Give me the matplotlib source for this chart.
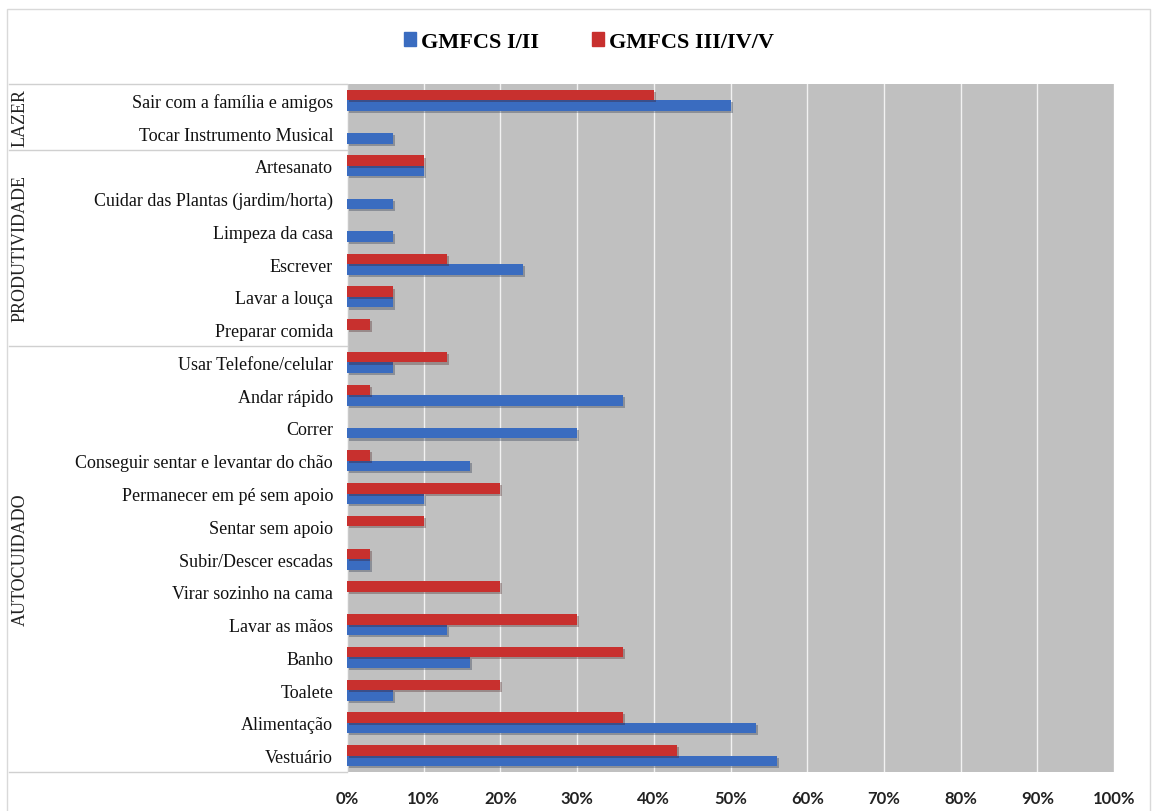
import matplotlib
matplotlib.use("Agg")
import matplotlib.pyplot as plt
import matplotlib.patches as mpatches
import matplotlib.patheffects as pe
from matplotlib.transforms import blended_transform_factory
from matplotlib.lines import Line2D
import numpy as np

categories = [
    "Sair com a família e amigos",
    "Tocar Instrumento Musical",
    "Artesanato",
    "Cuidar das Plantas (jardim/horta)",
    "Limpeza da casa",
    "Escrever",
    "Lavar a louça",
    "Preparar comida",
    "Usar Telefone/celular",
    "Andar rápido",
    "Correr",
    "Conseguir sentar e levantar do chão",
    "Permanecer em pé sem apoio",
    "Sentar sem apoio",
    "Subir/Descer escadas",
    "Virar sozinho na cama",
    "Lavar as mãos",
    "Banho",
    "Toalete",
    "Alimentação",
    "Vestuário",
]
gmfcs_1_2 = [50, 6, 10, 6, 6, 23, 6, 0, 6, 36, 30, 16, 10, 0, 3, 0, 13, 16, 6, 53.3, 56]
gmfcs_3_5 = [40, 0, 10, 0, 0, 13, 6, 3, 13, 3, 0, 3, 20, 10, 3, 20, 30, 36, 20, 36, 43]
series_names = ["GMFCS I/II", "GMFCS III/IV/V"]
groups = [("LAZER", 0, 1), ("PRODUTIVIDADE", 2, 7), ("AUTOCUIDADO", 8, 20)]
xticks = [0, 10, 20, 30, 40, 50, 60, 70, 80, 90, 100]

blue = "#3A6CC0"
red = "#C8302E"
serif = ["Liberation Serif", "DejaVu Serif"]

fig = plt.figure(figsize=(11.55, 8.12), dpi=100)
ax_left, ax_right, ax_bottom, ax_top = 347/1155, 1114/1155, 1-773/812, 1-85/812
ax = fig.add_axes([ax_left, ax_bottom, ax_right-ax_left, ax_top-ax_bottom])
ax.set_facecolor("#C0C0C0")

n = len(categories)
y = np.arange(n)
h = 0.32
shadow = [pe.SimplePatchShadow(offset=(1.5, -1.5), alpha=0.3), pe.Normal()]
b1 = ax.barh(y + h/2, gmfcs_1_2, height=h, color=blue, zorder=3)
b2 = ax.barh(y - h/2, gmfcs_3_5, height=h, color=red, zorder=3)
for bars in (b1, b2):
    for p in bars:
        if p.get_width() > 0:
            p.set_path_effects(shadow)

ax.set_xlim(0, 100)
ax.set_ylim(n - 0.5, -0.5)
ax.set_xticks(xticks)
ax.set_xticklabels([f"{v}%" for v in xticks], fontsize=12, fontweight="bold",
                   family=["Lato", "DejaVu Sans"], color="#222222")
ax.set_yticks(y)
ax.set_yticklabels(categories, fontsize=13, family=serif, color="#111111")
ax.tick_params(axis="both", length=0)
ax.tick_params(axis="y", pad=10)
ax.tick_params(axis="x", pad=13)
ax.xaxis.grid(True, color="#F2F2F2", linewidth=1.0, zorder=1)
ax.set_axisbelow(True)
for s in ax.spines.values():
    s.set_visible(False)

# left label box & group labels
tr = blended_transform_factory(fig.transFigure, ax.transData)
x0 = 9/1155
line_kw = dict(color="#D0D0D0", linewidth=1.0, transform=tr, clip_on=False)
for yy in [-0.5, n - 0.5]:
    fig.add_artist(Line2D([x0, ax_left], [yy, yy], **line_kw))
for name, a, b in groups:
    if a > 0:
        fig.add_artist(Line2D([x0, ax_left], [a - 0.5, a - 0.5], **line_kw))
    fig.text(20/1155, (a + b) / 2, name, rotation=90, ha="center", va="center",
             fontsize=13, family=serif, color="#222222", transform=tr)

# outer frame (bottom edge falls outside the picture)
fig.add_artist(mpatches.Rectangle((7/1155, -0.02), 1143/1155, 1.02 - 10/812, fill=False,
                                  edgecolor="#D9D9D9", linewidth=1.0,
                                  transform=fig.transFigure))

handles = [mpatches.Patch(color=blue, label=series_names[0]),
           mpatches.Patch(color=red, label=series_names[1])]
fig.legend(handles=handles, loc="center", bbox_to_anchor=(589/1155, 1 - 43/812),
           ncol=2, frameon=False, handlelength=0.55, handleheight=0.55,
           handletextpad=0.2, columnspacing=2.4,
           prop={"family": serif, "weight": "bold", "size": 16})

fig.savefig("out.png", dpi=100, facecolor="white")
